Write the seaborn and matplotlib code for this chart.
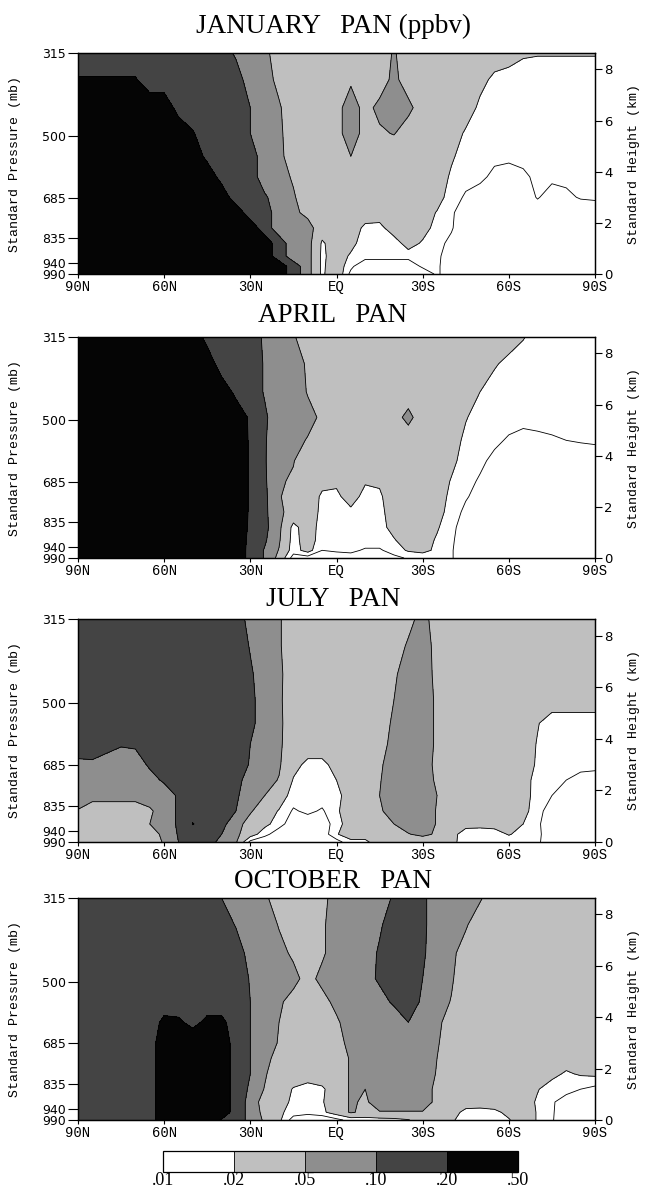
import numpy as np
import matplotlib
matplotlib.use("Agg")
import matplotlib as mpl
import matplotlib.pyplot as plt
from matplotlib.colors import ListedColormap, BoundaryNorm
import seaborn as sns

# ---------------- data (PAN mixing ratio, pptv) ----------------
LATS = [90, 85, 80, 75, 70, 65, 60, 55, 50, 45, 40, 35, 30, 25, 20, 15, 10, 5, 0,
        -5, -10, -15, -20, -25, -30, -35, -40, -45, -50, -55, -60, -65, -70, -75, -80, -85, -90]
Z_KM = [0.0, 0.3, 0.7, 1.2, 1.8, 2.4, 3.0, 3.8, 4.6, 5.5, 6.5, 7.6, 8.64]

JAN_PPTV = [
    [300,300,300,300,300,300,300,300,300,300,300,300,300,300,300,140,70,17,40,8,5,5,5,5,5,12,5,5,5,5,5,5,5,5,5,5,5],
    [300,300,300,300,300,300,300,300,300,300,300,300,300,300,300,140,70,17,35,12,5,5,5,5,12,12,5,5,5,5,5,5,5,5,5,5,5],
    [300,300,300,300,300,300,300,300,300,300,300,300,300,300,140,70,70,17,30,18,14,14,14,14,19,13,5,5,5,5,5,5,5,5,5,5,5],
    [300,300,300,300,300,300,300,300,300,300,300,300,300,300,140,70,70,18,30,25,14,14,14,28,18,13,8,5,5,5,5,5,5,5,5,5,5],
    [300,300,300,300,300,300,300,300,300,300,300,300,300,140,70,70,70,30,30,30,17,16,30,30,28,15,11,5,5,5,5,5,5,5,5,5,5],
    [300,300,300,300,300,300,300,300,300,300,300,300,140,140,70,60,40,30,30,30,30,30,30,30,30,19,12,5,5,5,5,5,5,5,5,5,5],
    [300,300,300,300,300,300,300,300,300,300,300,140,140,110,70,55,30,30,30,30,30,30,30,30,30,28,14,9,5,5,5,5,11,6,8,11,12],
    [300,300,300,300,300,300,300,300,300,300,160,140,140,70,70,45,30,30,30,30,30,30,30,30,30,30,18,13,14,7,5,8,13,13,13,13,13],
    [300,300,300,300,300,300,300,300,300,170,140,140,140,70,65,30,30,30,35,50,30,30,30,30,30,30,22,15,14,14,14,14,14,14,14,14,14],
    [300,300,300,300,300,300,300,300,210,140,140,140,100,70,60,30,30,30,40,70,40,45,52,35,30,30,30,18,14,14,14,14,14,14,14,14,14],
    [300,300,300,300,300,300,300,160,140,140,140,140,100,70,55,30,30,30,40,70,40,60,70,60,35,30,30,30,17,14,14,14,14,14,14,14,14],
    [210,210,210,210,210,140,140,140,140,140,140,140,70,70,40,30,30,30,30,45,30,35,60,35,30,30,30,30,25,17,14,14,14,14,14,14,14],
    [140,140,140,140,140,140,140,140,140,140,140,90,70,60,35,30,30,30,30,30,30,30,55,30,30,30,30,30,30,30,30,22,21,21,21,21,21],
]

APR_PPTV = [
    [300,300,300,300,300,300,300,300,300,300,300,300,165,95,40,7,7,7,7,7,7,7,8,11,13,14,11,5,5,5,5,5,5,5,5,5,5],
    [300,300,300,300,300,300,300,300,300,300,300,300,165,95,48,14,28,10,11,12,9,9,14,22,25,17,11,5,5,5,5,5,5,5,5,5,5],
    [300,300,300,300,300,300,300,300,300,300,300,300,170,110,55,15,30,14,14,15,15,15,19,28,30,18,12,5,5,5,5,5,5,5,5,5,5],
    [300,300,300,300,300,300,300,300,300,300,300,300,180,120,60,16,30,15,15,15,15,16,25,30,30,22,12,7,5,5,5,5,5,5,5,5,5],
    [300,300,300,300,300,300,300,300,300,300,300,300,185,115,60,35,30,17,15,18,15,16,30,30,30,25,16,8,5,5,5,5,5,5,5,5,5],
    [300,300,300,300,300,300,300,300,300,300,300,300,185,115,55,30,30,18,18,25,17,18,30,30,30,28,17,11,7,5,5,5,5,5,5,5,5],
    [300,300,300,300,300,300,300,300,300,300,300,300,185,110,55,45,30,24,22,30,21,22,30,30,30,30,19,13,9,5,5,5,5,5,5,5,5],
    [300,300,300,300,300,300,300,300,300,300,300,300,185,105,65,52,30,30,30,30,30,30,30,30,30,30,24,15,12,8,5,5,5,5,5,5,5],
    [300,300,300,300,300,300,300,300,300,300,300,300,185,105,70,60,48,30,30,30,30,30,30,30,30,30,28,17,14,12,9,7,8,9,10,11,12],
    [300,300,300,300,300,300,300,300,300,300,300,300,180,110,70,70,60,45,30,30,30,30,35,65,30,30,30,21,15,14,14,14,14,14,14,14,14],
    [300,300,300,300,300,300,300,300,300,300,300,170,140,95,70,70,48,30,30,30,30,30,30,30,30,30,30,28,20,14,14,14,14,14,14,14,14],
    [300,300,300,300,300,300,300,300,300,300,140,140,140,95,70,70,45,30,30,30,30,30,30,30,30,30,30,30,30,22,16,14,14,14,14,14,14],
    [300,300,300,300,300,300,300,300,300,160,140,140,140,90,70,55,30,30,30,30,30,30,30,30,30,30,30,30,30,30,30,21,15,15,15,15,15],
]

JUL_PPTV = [
    [30,30,30,30,30,30,55,100,150,150,75,55,8,5,5,5,5,5,7,17,17,30,30,30,30,30,25,14,14,14,14,14,12,5,5,5,5],
    [30,30,30,30,30,30,65,105,150,150,100,60,30,13,6,6,6,6,19,28,28,30,30,48,60,45,25,15,15,15,21,16,12,6,5,5,5],
    [30,30,30,30,30,50,70,110,205,150,120,70,35,25,14,6,6,6,15,30,30,35,50,70,70,48,30,25,24,26,28,20,12,5,5,5,5],
    [48,30,30,30,30,45,70,110,150,150,150,100,55,30,19,9,12,9,18,30,30,45,70,70,70,48,30,30,30,30,30,25,14,6,5,5,5],
    [70,70,70,70,70,70,70,110,150,150,150,110,70,50,30,15,15,15,16,30,30,50,70,70,70,50,30,30,30,30,30,27,15,10,5,5,5],
    [70,70,70,70,70,80,110,150,150,150,150,130,70,65,48,19,15,15,20,30,30,48,70,70,70,45,30,30,30,30,30,28,15,12,10,7,6],
    [90,90,80,75,75,110,150,150,150,150,150,140,95,70,55,25,17,17,25,30,30,45,70,70,70,42,30,30,30,30,30,30,18,14,14,14,14],
    [130,140,120,105,110,150,150,150,150,150,150,150,100,70,58,30,30,30,30,30,30,40,60,70,70,45,30,30,30,30,30,30,19,14,14,14,14],
    [150,150,150,150,150,150,150,150,150,150,150,150,120,70,60,30,30,30,30,30,30,38,55,70,70,45,30,30,30,30,30,30,21,14,14,14,14],
    [150,150,150,150,150,150,150,150,150,150,150,150,120,70,58,30,30,30,30,30,30,30,50,70,70,45,30,30,30,30,30,30,30,30,30,30,30],
    [150,150,150,150,150,150,150,150,150,150,150,150,110,70,60,30,30,30,30,30,30,30,45,70,70,42,30,30,30,30,30,30,30,30,30,30,30],
    [150,150,150,150,150,150,150,150,150,150,150,150,95,70,55,30,30,30,30,30,30,30,35,55,70,40,30,30,30,30,30,30,30,30,30,30,30],
    [150,150,150,150,150,150,150,150,150,150,150,140,80,70,55,30,30,30,30,30,30,30,30,40,65,35,30,30,30,30,30,30,30,30,30,30,30],
]

OCT_PPTV = [
    [150,150,150,150,150,150,300,300,300,300,190,150,80,45,24,7,5,5,8,13,14,15,16,19,30,30,22,15,15,15,19,30,19,11,5,5,5],
    [150,150,150,150,150,150,300,300,300,300,300,150,80,40,24,14,13,17,30,55,40,48,48,48,48,40,28,16,15,17,24,30,19,11,6,6,6],
    [150,150,150,150,150,150,300,300,300,300,300,150,80,35,28,17,15,19,30,55,45,70,70,70,70,42,30,30,30,30,30,30,18,11,7,7,7],
    [150,150,150,150,150,150,300,300,300,300,300,150,90,48,30,19,15,18,30,55,50,70,70,70,70,42,30,30,30,30,30,30,21,14,13,10,8],
    [150,150,150,150,150,150,300,300,300,300,300,150,100,55,30,30,30,30,30,55,60,70,70,70,70,48,30,30,30,30,30,30,30,25,18,22,24],
    [150,150,150,150,150,150,300,300,300,300,300,150,100,60,40,30,30,30,30,55,65,70,70,70,70,50,30,30,30,30,30,30,30,30,30,30,30],
    [150,150,150,150,150,150,300,300,300,300,300,150,100,65,48,30,30,30,40,60,70,70,70,70,70,55,30,30,30,30,30,30,30,30,30,30,30],
    [150,150,150,150,150,150,230,220,170,230,230,150,100,70,50,30,30,30,45,70,70,70,70,100,70,60,35,30,30,30,30,30,30,30,30,30,30],
    [150,150,150,150,150,150,150,150,150,150,150,150,100,70,55,40,30,40,60,70,70,80,110,140,90,70,48,30,30,30,30,30,30,30,30,30,30],
    [150,150,150,150,150,150,150,150,150,150,150,150,95,70,70,60,40,60,70,70,80,110,150,150,100,70,55,30,30,30,30,30,30,30,30,30,30],
    [150,150,150,150,150,150,150,150,150,150,150,150,75,70,60,45,30,45,70,70,70,110,150,150,110,70,60,35,30,30,30,30,30,30,30,30,30],
    [150,150,150,150,150,150,150,150,150,150,150,95,70,70,48,30,30,45,70,70,70,90,150,150,115,70,70,55,30,30,30,30,30,30,30,30,30],
    [150,150,150,150,150,150,150,150,150,150,100,75,70,60,30,30,30,40,70,70,70,70,110,150,115,70,70,70,55,30,30,30,30,30,30,30,30],
]

TITLES = ["JANUARY   PAN (ppbv)", "APRIL   PAN", "JULY   PAN", "OCTOBER   PAN"]
P_TICKS = [315, 500, 685, 835, 940, 990]
H_TICKS = [0, 2, 4, 6, 8]
LAT_TICKS = [90, 60, 30, 0, -30, -60, -90]
LAT_LABELS = ["90N", "60N", "30N", "EQ", "30S", "60S", "90S"]
BOUNDS = [0.01, 0.02, 0.05, 0.10, 0.20, 0.50]
BOUND_LABELS = [".01", ".02", ".05", ".10", ".20", ".50"]
SHADES = ["#ffffff", "#bfbfbf", "#8e8e8e", "#444444", "#050505"]

# ---------------- style ----------------
sns.set_theme(style="ticks")
plt.rcParams["font.family"] = ["DejaVu Sans"]
for key in ["axes.edgecolor", "xtick.color", "ytick.color", "text.color",
            "axes.labelcolor", "xtick.labelcolor", "ytick.labelcolor"]:
    plt.rcParams[key] = "black"


def std_height(p):
    """standard-atmosphere height (km) above the 990 mb level"""
    h = lambda q: 44.3308 * (1.0 - (q / 1013.25) ** 0.190263)
    return h(p) - h(990.0)


ZTOP = std_height(315)

W, H = 645, 1191
fig = plt.figure(figsize=(W / 100, H / 100), dpi=100)

panel_tops = [53, 337, 619, 898]
panel_bottoms = [274, 558, 842, 1120]
title_base = [33, 322, 606, 888]
ax_left, ax_right = 78, 595

fill_levels = np.log10([1e-4, 0.01, 0.02, 0.05, 0.10, 0.20, 1.0])
fill_colors = ["#ffffff"] + SHADES
line_levels = np.log10([0.01, 0.02, 0.05, 0.10, 0.20])

datasets = [JAN_PPTV, APR_PPTV, JUL_PPTV, OCT_PPTV]
for k, data in enumerate(datasets):
    top, bot = panel_tops[k], panel_bottoms[k]
    ax = fig.add_axes([ax_left / W, 1 - bot / H, (ax_right - ax_left) / W, (bot - top) / H])
    vals = np.log10(np.array(data, dtype=float) / 1000.0)
    ax.contourf(LATS, Z_KM, vals, levels=fill_levels, colors=fill_colors)
    ax.contour(LATS, Z_KM, vals, levels=line_levels, colors="black",
               linewidths=0.6, linestyles="solid")
    ax.set_xlim(90, -90)
    ax.set_ylim(0, ZTOP)
    ax.set_xticks(LAT_TICKS)
    ax.set_xticklabels(LAT_LABELS, family="Liberation Mono", fontsize=10)
    ax.set_yticks([std_height(p) for p in P_TICKS])
    ax.set_yticklabels([str(p) for p in P_TICKS], fontsize=9)
    ax.tick_params(axis="y", direction="out", length=7, width=0.8, pad=1.5)
    ax.tick_params(axis="x", direction="out", length=3, width=0.8, pad=1.5)
    for s in ax.spines.values():
        s.set_linewidth(0.9)
        s.set_color("black")
    ax2 = ax.twinx()
    ax2.set_ylim(0, ZTOP)
    ax2.set_yticks(H_TICKS)
    ax2.set_yticklabels([str(h) for h in H_TICKS], fontsize=9.5)
    ax2.tick_params(axis="y", direction="out", length=5, width=0.8, pad=1.5)
    for s in ax2.spines.values():
        s.set_linewidth(0.9)
        s.set_color("black")
    ycen = 1 - (top + bot) / 2 / H
    fig.text(15 / W, ycen, "Standard Pressure (mb)", rotation=90, ha="center", va="center",
             family="Liberation Mono", fontsize=9.5)
    fig.text(634 / W, ycen, "Standard Height (km)", rotation=90, ha="center", va="center",
             family="Liberation Mono", fontsize=9.5)
    fig.text(333 / W, 1 - title_base[k] / H, TITLES[k], ha="center", va="baseline",
             family="Liberation Serif", fontsize=19.5)

# ---------------- colour bar ----------------
cax = fig.add_axes([163 / W, 1 - 1172 / H, (518 - 163) / W, 21 / H])
cmap = ListedColormap(SHADES)
norm = BoundaryNorm(BOUNDS, cmap.N)
cb = fig.colorbar(mpl.cm.ScalarMappable(norm=norm, cmap=cmap), cax=cax,
                  orientation="horizontal", ticks=BOUNDS, spacing="uniform", drawedges=True)
cb.outline.set_linewidth(0.9)
cb.dividers.set_linewidth(0.6)
cb.ax.set_xticklabels(BOUND_LABELS, family="Liberation Serif", fontsize=13)
cb.ax.tick_params(length=0, pad=0)

fig.savefig("out.png", dpi=100)
